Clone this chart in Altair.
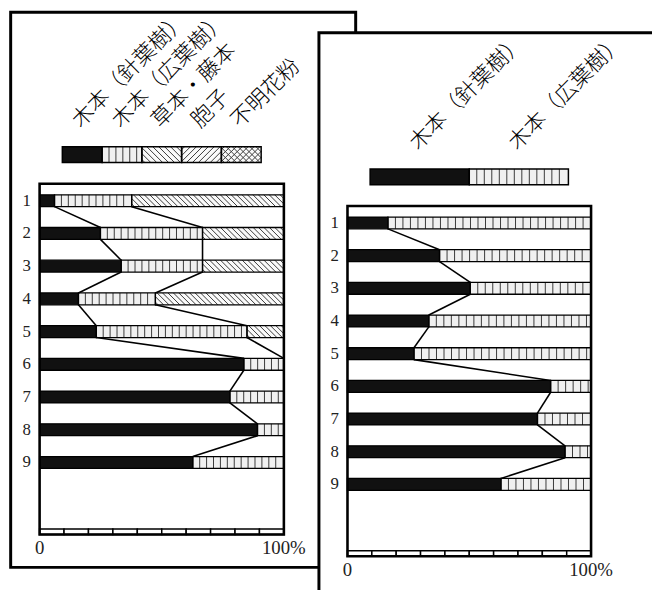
import altair as alt
import pandas as pd

# ---------------- data ----------------
rows = [1, 2, 3, 4, 5, 6, 7, 8, 9]
row_labels = ["1", "2", "3", "4", "5", "6", "7", "8", "9"]
x_tick_values = [0, 100]
x_tick_labels = ["0", "100%"]

left_categories = ["木本（針葉樹）", "木本（広葉樹）", "草本・藤本", "胞子", "不明花粉"]
left_conifer = [6.1, 24.9, 33.4, 15.9, 23.2, 83.6, 77.9, 89.2, 62.7]
left_broadleaf = [31.6, 41.8, 33.3, 31.5, 61.7, 16.4, 22.1, 10.8, 37.3]
left_herb = [62.3, 33.3, 33.3, 52.6, 15.1, 0.0, 0.0, 0.0, 0.0]
left_spore = [0.0, 0.0, 0.0, 0.0, 0.0, 0.0, 0.0, 0.0, 0.0]
left_unknown = [0.0, 0.0, 0.0, 0.0, 0.0, 0.0, 0.0, 0.0, 0.0]

right_categories = ["木本（針葉樹）", "木本（広葉樹）"]
right_conifer = [16.6, 37.8, 50.4, 33.4, 27.3, 83.4, 78.0, 89.3, 63.0]
right_broadleaf = [83.4, 62.2, 49.6, 66.6, 72.7, 16.6, 22.0, 10.7, 37.0]

# ---------------- style / layout ----------------
FILL = {"solid": "#111111", "vstripe": "#f0f0f0", "bslash": "#fafafa",
        "slash": "#fafafa", "cross": "#fafafa"}
left_patterns = ["solid", "vstripe", "bslash", "slash", "cross"]
right_patterns = ["solid", "vstripe"]

LEFT = dict(xr=[32.0, 279.3], yr=[191.5, 456.5], stripe_px=7.0, hatch_px=5.5)
RIGHT = dict(xr=[343.7, 590.3], yr=[214.0, 478.7], stripe_px=7.6, hatch_px=5.5)
BAR_HH_PX = 6.0
LEG_ROW = -0.41
LEG_HH_PX = 8.0
LEG_SPAN = (9.3, 90.7)
LABEL_ROW = -1.35
LABEL_DX_PX = -6.5
YLAB_DX_PX = -13.0
FRAME_TOP = 0.48
FRAME_BOTTOM = 11.2
STRIP_TOP = 11.03
XLAB_ROW = 11.62
CJK_FONT = "Noto Sans CJK JP"
NUM_FONT = "Liberation Serif"


def pattern_lines(kind, x0, x1, rc, hh, ppx, ppr, stripe_px, hatch_px):
    out = []
    top, bot = rc - hh, rc + hh
    if kind == "vstripe":
        s = stripe_px / ppx
        x = x0 + s
        while x < x1 - 0.3 * s:
            out.append((x, x, top, bot))
            x += s
    if kind in ("bslash", "slash", "cross"):
        dirs = []
        if kind in ("bslash", "cross"):
            dirs.append(1)
        if kind in ("slash", "cross"):
            dirs.append(-1)
        h = (2 * hh * ppr) / ppx
        s = hatch_px / ppx
        for d in dirs:
            xs = x0 - h + s * 0.5
            while xs < x1:
                t0 = max(0.0, (x0 - xs) / h)
                t1 = min(1.0, (x1 - xs) / h)
                if t1 > t0:
                    xa, xb = xs + h * t0, xs + h * t1
                    if d == 1:
                        ya, yb = top + 2 * hh * t0, top + 2 * hh * t1
                    else:
                        ya, yb = bot - 2 * hh * t0, bot - 2 * hh * t1
                    out.append((xa, xb, ya, yb))
                xs += s
    return out


def enc(xs, ys, two=True):
    e = dict(x=alt.X("x:Q", scale=xs, axis=None), y=alt.Y("y:Q", scale=ys, axis=None))
    if two:
        e.update(x2="x2:Q", y2="y2:Q")
    return e


def panel(cfg, cats, series, patterns):
    ppx = (cfg["xr"][1] - cfg["xr"][0]) / 100.0
    ppr = (cfg["yr"][1] - cfg["yr"][0]) / 8.0
    xs = alt.Scale(domain=[0, 100], range=cfg["xr"], nice=False, zero=False)
    ys = alt.Scale(domain=[1, 9], range=cfg["yr"], nice=False, zero=False)
    hh = BAR_HH_PX / ppr

    segs, lines, conns = [], [], []
    for i, r in enumerate(rows):
        cum = 0.0
        for k, ser in enumerate(series):
            v = ser[i]
            if v > 0:
                segs.append(dict(x=cum, x2=cum + v, y=r - hh, y2=r + hh, fill=FILL[patterns[k]]))
                for a, b, c, d in pattern_lines(patterns[k], cum, cum + v, r, hh, ppx, ppr,
                                                cfg["stripe_px"], cfg["hatch_px"]):
                    lines.append(dict(x=a, x2=b, y=c, y2=d))
            cum += v
    for b in range(1, len(series)):
        cums = [sum(series[k][i] for k in range(b)) for i in range(len(rows))]
        for i in range(len(rows) - 1):
            a, c = cums[i], cums[i + 1]
            if min(a, c) >= 99.9 or max(a, c) <= 0.1:
                continue
            conns.append(dict(x=a, x2=c, y=rows[i] + hh, y2=rows[i + 1] - hh))

    lhh = LEG_HH_PX / ppr
    n = len(cats)
    w = (LEG_SPAN[1] - LEG_SPAN[0]) / n
    legs, leg_lines, labs = [], [], []
    for k in range(n):
        a = LEG_SPAN[0] + k * w
        b = a + w
        legs.append(dict(x=a, x2=b, y=LEG_ROW - lhh, y2=LEG_ROW + lhh, fill=FILL[patterns[k]]))
        for p, q, c, d in pattern_lines(patterns[k], a, b, LEG_ROW, lhh, ppx, ppr,
                                        cfg["stripe_px"], 6.0):
            leg_lines.append(dict(x=p, x2=q, y=c, y2=d))
        labs.append(dict(x=(a + b) / 2 + LABEL_DX_PX / ppx, y=LABEL_ROW, text=cats[k]))

    strip = [dict(x=i * 10.0, x2=i * 10.0 + 10.0, y=STRIP_TOP, y2=FRAME_BOTTOM) for i in range(10)]
    frame = [dict(x=0.0, x2=100.0, y=FRAME_TOP, y2=FRAME_BOTTOM)]
    ylabs = [dict(x=YLAB_DX_PX / ppx, y=r, text=t) for r, t in zip(rows, row_labels)]
    xlabs = [dict(x=v, y=XLAB_ROW, text=t) for v, t in zip(x_tick_values, x_tick_labels)]

    L = []
    L.append(alt.Chart(pd.DataFrame(segs)).mark_rect(strokeWidth=0)
             .encode(color=alt.Color("fill:N", scale=None), **enc(xs, ys)))
    if lines:
        L.append(alt.Chart(pd.DataFrame(lines)).mark_rule(color="#3a3a3a", strokeWidth=1)
                 .encode(**enc(xs, ys)))
    L.append(alt.Chart(pd.DataFrame(segs)).mark_rect(fillOpacity=0, stroke="#000000", strokeWidth=1.3)
             .encode(**enc(xs, ys)))
    if conns:
        L.append(alt.Chart(pd.DataFrame(conns)).mark_rule(color="#000000", strokeWidth=1.6)
                 .encode(**enc(xs, ys)))
    L.append(alt.Chart(pd.DataFrame(legs)).mark_rect(strokeWidth=0)
             .encode(color=alt.Color("fill:N", scale=None), **enc(xs, ys)))
    L.append(alt.Chart(pd.DataFrame(leg_lines)).mark_rule(color="#3a3a3a", strokeWidth=1)
             .encode(**enc(xs, ys)))
    L.append(alt.Chart(pd.DataFrame(legs)).mark_rect(fillOpacity=0, stroke="#000000", strokeWidth=1.5)
             .encode(**enc(xs, ys)))
    L.append(alt.Chart(pd.DataFrame(labs)).mark_text(angle=315, align="left", baseline="middle",
                                                     font=CJK_FONT, fontSize=22, fontWeight=300,
                                                     color="#000000")
             .encode(text="text:N", **enc(xs, ys, two=False)))
    L.append(alt.Chart(pd.DataFrame(strip)).mark_rect(fill="#ffffff", stroke="#000000", strokeWidth=1.5)
             .encode(**enc(xs, ys)))
    L.append(alt.Chart(pd.DataFrame(frame)).mark_rect(fillOpacity=0, stroke="#000000", strokeWidth=2.6)
             .encode(**enc(xs, ys)))
    L.append(alt.Chart(pd.DataFrame(ylabs)).mark_text(align="center", baseline="middle",
                                                      font=NUM_FONT, fontSize=17, color="#222222")
             .encode(text="text:N", **enc(xs, ys, two=False)))
    L.append(alt.Chart(pd.DataFrame(xlabs)).mark_text(align="center", baseline="middle",
                                                      font=NUM_FONT, fontSize=19, color="#222222")
             .encode(text="text:N", **enc(xs, ys, two=False)))
    return L


dummy = pd.DataFrame({"a": [0]})
left_frame = alt.Chart(dummy).mark_rect(fill="#ffffff", stroke="#000000", strokeWidth=3).encode(
    x=alt.value(2.7), x2=alt.value(352.0), y=alt.value(0.6), y2=alt.value(562.7))
right_frame = alt.Chart(dummy).mark_rect(fill="#ffffff", stroke="#000000", strokeWidth=3).encode(
    x=alt.value(314.8), x2=alt.value(720.0), y=alt.value(21.5), y2=alt.value(700.0))

layers = [left_frame]
layers += panel(LEFT, left_categories,
                [left_conifer, left_broadleaf, left_herb, left_spore, left_unknown], left_patterns)
layers.append(right_frame)
layers += panel(RIGHT, right_categories, [right_conifer, right_broadleaf], right_patterns)

chart = (
    alt.layer(*layers)
    .resolve_scale(x="independent", y="independent")
    .properties(width=652, height=582, autosize=alt.AutoSizeParams(type="none"),
                padding=0, background="white")
    .configure_view(stroke=None)
)

chart.save("out.html", embed_options={"renderer": "svg", "actions": False})
